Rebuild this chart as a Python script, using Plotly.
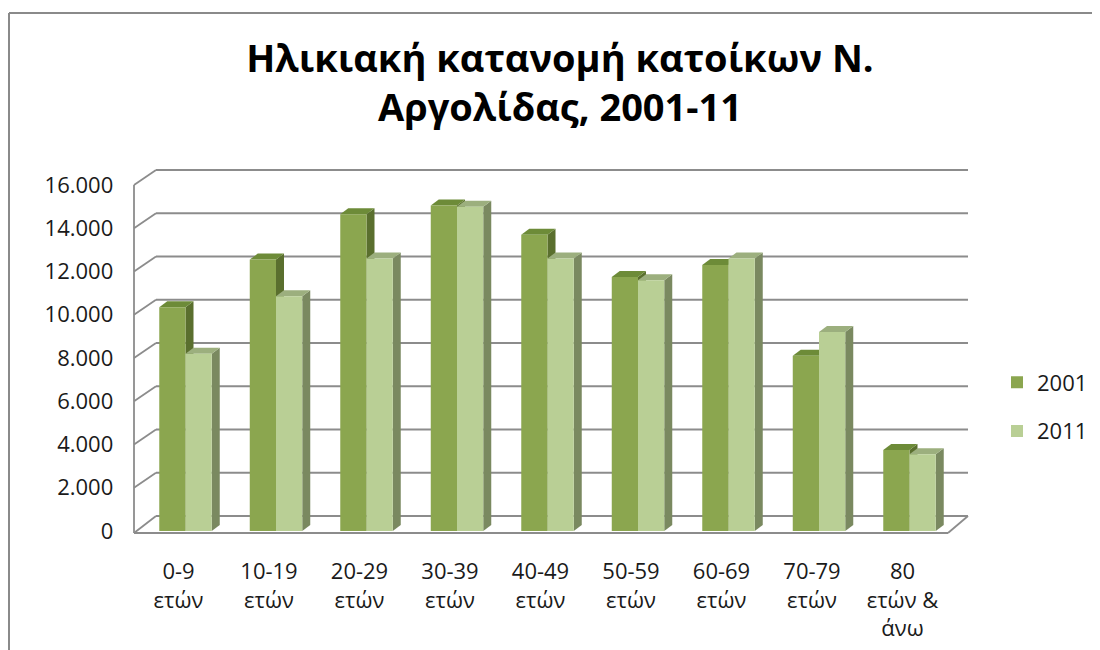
import plotly.graph_objects as go

# ---------------- data ----------------
categories = ["0-9<br>ετών", "10-19<br>ετών", "20-29<br>ετών", "30-39<br>ετών",
              "40-49<br>ετών", "50-59<br>ετών", "60-69<br>ετών", "70-79<br>ετών",
              "80<br>ετών &<br>άνω"]
series_names = ["2001", "2011"]
values_2001 = [10350, 12550, 14650, 15050, 13700, 11750, 12300, 8100, 3750]
values_2011 = [8200, 10850, 12600, 15000, 12600, 11600, 12600, 9200, 3550]
y_tick_vals = [0, 2000, 4000, 6000, 8000, 10000, 12000, 14000, 16000]
y_tick_text = ["0", "2.000", "4.000", "6.000", "8.000", "10.000", "12.000", "14.000", "16.000"]
title_text = "Ηλικιακή κατανομή κατοίκων Ν.<br>Αργολίδας, 2001-11"

# ---------------- geometry / style ----------------
W, H = 1100, 650
PAGE_OFF = 8   # default page margin around the figure div

def fx(p):  # screenshot pixel x -> paper
    return (p - PAGE_OFF) / W
def fy(p):  # screenshot pixel y -> paper
    return 1 - (p - PAGE_OFF) / H

Y_MAX = 16000
Y0_PX, YTOP_PX = 531, 185           # front plane: value 0 and 16000
PX_PER_UNIT = (Y0_PX - YTOP_PX) / Y_MAX
def ypx(v):
    return Y0_PX - v * PX_PER_UNIT

X_LEFT_PX, X_RIGHT_PX = 140.25, 954.75   # bar plane x domain for range [-0.5, 8.5]
CAT_PX = (X_RIGHT_PX - X_LEFT_PX) / 9

FRONT_X = 134        # left wall front edge
BACK_DX, BACK_DY = 22, -15   # back wall offset in pixels
FLOOR_Y = 533
FLOOR_RIGHT = 948
BACK_RIGHT = 968

C2001 = "#8ba64f"
C2011 = "#b9cf95"
C2001_TOP = "#6d8b38"
C2001_SIDE = "#5a6f2e"
C2011_TOP = "#9caf7e"
C2011_SIDE = "#7a8960"
GRID = "#8c8c8c"
TEXT = "#1a1a1a"
FONT = "Open Sans"

bar_w = 0.29
depth_dx = 8 / CAT_PX
depth_dy = 6 / PX_PER_UNIT

x_idx = list(range(len(categories)))

fig = go.Figure()
fig.add_trace(go.Bar(x=x_idx, y=values_2001, name=series_names[0], width=bar_w,
                     offset=-bar_w, marker=dict(color=C2001, line=dict(width=0)),
                     legendgroup="a"))
fig.add_trace(go.Bar(x=x_idx, y=values_2011, name=series_names[1], width=bar_w,
                     offset=0, marker=dict(color=C2011, line=dict(width=0)),
                     legendgroup="b"))

shapes = []
# outer chart border (top and left visible)
shapes.append(dict(type="line", xref="paper", yref="paper", x0=fx(9), y0=fy(13), x1=fx(1110), y1=fy(13),
                   line=dict(color="#8a8a8a", width=2), layer="below"))
shapes.append(dict(type="line", xref="paper", yref="paper", x0=fx(9), y0=fy(13), x1=fx(9), y1=fy(660),
                   line=dict(color="#8a8a8a", width=2), layer="below"))

# back-wall gridlines and left-wall diagonals
for v in y_tick_vals:
    yb = ypx(v) + BACK_DY
    yf = ypx(v) if v > 0 else FLOOR_Y
    shapes.append(dict(type="line", xref="paper", yref="paper",
                       x0=fx(FRONT_X + BACK_DX), y0=fy(yb), x1=fx(BACK_RIGHT), y1=fy(yb),
                       line=dict(color=GRID, width=1.8), layer="below"))
    shapes.append(dict(type="line", xref="paper", yref="paper",
                       x0=fx(FRONT_X), y0=fy(yf), x1=fx(FRONT_X + BACK_DX), y1=fy(yb),
                       line=dict(color=GRID, width=1.8), layer="below"))
# left wall front edge
shapes.append(dict(type="line", xref="paper", yref="paper",
                   x0=fx(FRONT_X), y0=fy(ypx(Y_MAX)), x1=fx(FRONT_X), y1=fy(FLOOR_Y),
                   line=dict(color=GRID, width=1.8), layer="below"))
# floor front edge and right diagonal
shapes.append(dict(type="line", xref="paper", yref="paper",
                   x0=fx(FRONT_X), y0=fy(FLOOR_Y), x1=fx(FLOOR_RIGHT), y1=fy(FLOOR_Y),
                   line=dict(color=GRID, width=1.8), layer="below"))
shapes.append(dict(type="line", xref="paper", yref="paper",
                   x0=fx(FLOOR_RIGHT), y0=fy(FLOOR_Y), x1=fx(BACK_RIGHT), y1=fy(ypx(0) + BACK_DY),
                   line=dict(color=GRID, width=1.8), layer="below"))

# 3D faces of the bars (top and side), derived from the data
def faces(xl, xr, v, top_c, side_c):
    top = (f"M {xl},{v} L {xr},{v} L {xr + depth_dx},{v + depth_dy} "
           f"L {xl + depth_dx},{v + depth_dy} Z")
    side = (f"M {xr},0 L {xr},{v} L {xr + depth_dx},{v + depth_dy} "
            f"L {xr + depth_dx},{depth_dy} Z")
    return [dict(type="path", xref="x", yref="y", path=side, fillcolor=side_c,
                 line=dict(width=0), layer="between"),
            dict(type="path", xref="x", yref="y", path=top, fillcolor=top_c,
                 line=dict(width=0), layer="between")]

for i, (a, b) in enumerate(zip(values_2001, values_2011)):
    shapes += faces(i - bar_w, i, a, C2001_TOP, C2001_SIDE)
    shapes += faces(i, i + bar_w, b, C2011_TOP, C2011_SIDE)

fig.update_layout(
    width=W, height=H, autosize=False,
    margin=dict(l=0, r=0, t=0, b=0, pad=0, autoexpand=False),
    paper_bgcolor="white", plot_bgcolor="rgba(0,0,0,0)",
    barmode="overlay",
    title=dict(text=title_text, x=fx(560), xanchor="center", y=fy(72), yanchor="middle",
               font=dict(family=FONT, size=38, color="#000000", weight=700),
               automargin=False),
    xaxis=dict(domain=[fx(X_LEFT_PX), fx(X_RIGHT_PX)], range=[-0.5, 8.5],
               tickvals=x_idx, ticktext=categories, showgrid=False, zeroline=False,
               showline=False, ticks="", ticklabelshift=-7, ticklabelstandoff=25,
               tickfont=dict(family=FONT, size=22, color=TEXT), fixedrange=True,
               automargin=False),
    yaxis=dict(domain=[fy(Y0_PX), fy(YTOP_PX)], range=[0, Y_MAX],
               tickvals=y_tick_vals, ticktext=y_tick_text, showgrid=False,
               zeroline=False, showline=False, ticks="", ticklabelstandoff=26,
               tickfont=dict(family=FONT, size=22, color=TEXT), fixedrange=True,
               automargin=False),
    legend=dict(x=fx(997), xanchor="left", y=fy(407), yanchor="middle",
                font=dict(family=FONT, size=22, color=TEXT), tracegroupgap=17,
                bgcolor="rgba(0,0,0,0)"),
    shapes=shapes,
)

fig.write_html("out.html")
